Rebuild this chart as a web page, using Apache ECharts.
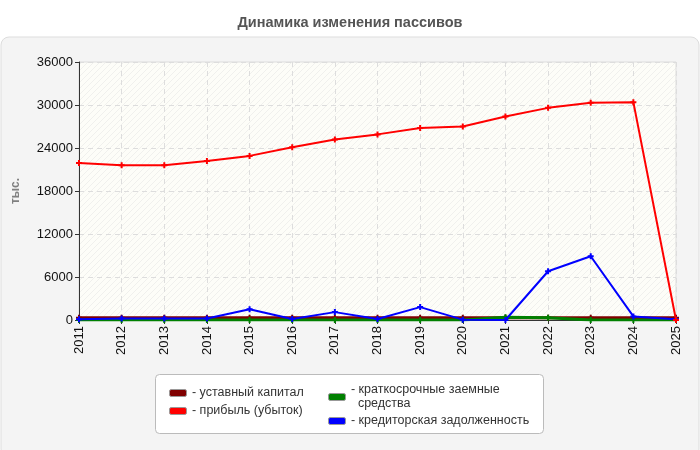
<!DOCTYPE html>
<html>
<head>
<meta charset="utf-8">
<script src="https://cdn.jsdelivr.net/npm/echarts@6/dist/echarts.min.js"></script>
<style>
    html, body { margin: 0; padding: 0; background: #fff; }
    #chart { width: 700px; height: 450px; }
</style>
</head>
<body>
<div id="chart"></div>
<script>
    var years = ['2011', '2012', '2013', '2014', '2015', '2016', '2017', '2018', '2019', '2020', '2021', '2022', '2023', '2024', '2025'];
    var capital = [300, 300, 300, 300, 300, 300, 300, 300, 300, 300, 300, 300, 300, 300, 300];
    var profit = [21900, 21600, 21600, 22200, 22900, 24100, 25200, 25900, 26800, 27000, 28400, 29600, 30300, 30400, 0];
    var loans = [0, 0, 0, 0, 0, 0, 0, 0, 0, 0, 400, 300, 0, 0, 0];
    var payables = [100, 200, 200, 200, 1500, 150, 1100, 150, 1800, 50, 0, 6800, 8900, 500, 100];
    var yTicks = [0, 6000, 12000, 18000, 24000, 30000, 36000];

    var font = 'Liberation Sans, Arial, sans-serif';

    // штриховка фона области графика
    var hatch = document.createElement('canvas');
    hatch.width = 6;
    hatch.height = 6;
    var hctx = hatch.getContext('2d');
    hctx.fillStyle = '#fdfdf8';
    hctx.fillRect(0, 0, 6, 6);
    hctx.strokeStyle = '#f0f0ed';
    hctx.lineWidth = 1;
    hctx.beginPath();
    hctx.moveTo(0, 6);
    hctx.lineTo(6, 0);
    hctx.stroke();

    var plus = 'path://M2,0H4V2H6V4H4V6H2V4H0V2H2Z';

    var chart = echarts.init(document.getElementById('chart'));

    function line(name, data, color, width, z) {
        return {
            name: name,
            type: 'line',
            data: data,
            z: z,
            symbol: plus,
            symbolSize: 6,
            showAllSymbol: true,
            lineStyle: { color: color, width: width },
            itemStyle: { color: color },
            emphasis: { disabled: true }
        };
    }

    var legendBase = {
        orient: 'vertical',
        itemWidth: 17,
        itemHeight: 7,
        icon: 'roundRect',
        itemGap: 3,
        selectedMode: false,
        textStyle: { fontSize: 12.5, color: '#333', fontFamily: font, lineHeight: 14, padding: [0, 0, 0, -3] },
        formatter: function (name) { return ' - ' + name; }
    };

    var option = {
        animation: false,
        backgroundColor: '#fff',
        title: {
            text: 'Динамика изменения пассивов',
            left: 'center',
            top: 10,
            textStyle: { fontSize: 14.5, fontWeight: 'bold', color: '#555', fontFamily: font }
        },
        graphic: [
            {
                type: 'rect', z: -10, silent: true,
                shape: { x: 1, y: 37, width: 698, height: 420, r: 8 },
                style: { fill: '#f4f4f4', stroke: '#dddddd', lineWidth: 1 }
            },
            {
                type: 'rect', z: -5, silent: true,
                shape: { x: 155.5, y: 374.5, width: 388, height: 59, r: 4 },
                style: { fill: '#ffffff', stroke: '#bbbbbb', lineWidth: 1 }
            }
        ],
        legend: [
            Object.assign({}, legendBase, {
                left: 164,
                top: 381,
                itemGap: 4,
                data: ['уставный капитал', 'прибыль (убыток)'].map(function (n) {
                    return { name: n, itemStyle: { borderColor: '#999', borderWidth: 1 } };
                })
            }),
            Object.assign({}, legendBase, {
                left: 323,
                top: 378,
                formatter: function (name) {
                    if (name === 'краткосрочные заемные средства') return ' - краткосрочные заемные\n   средства';
                    return ' - ' + name;
                },
                data: ['краткосрочные заемные средства', 'кредиторская задолженность'].map(function (n) {
                    return { name: n, itemStyle: { borderColor: '#999', borderWidth: 1 } };
                })
            })
        ],
        grid: {
            left: 79,
            right: 24,
            top: 62,
            bottom: 130,
            show: true,
            borderColor: '#dddddd',
            borderWidth: 1,
            backgroundColor: { image: hatch, repeat: 'repeat' }
        },
        xAxis: {
            type: 'category',
            data: years,
            boundaryGap: false,
            axisLine: { lineStyle: { color: '#333', width: 1 } },
            axisTick: { show: true, length: 4, lineStyle: { color: '#333' }, alignWithLabel: true },
            axisLabel: { rotate: 90, color: '#111', fontSize: 13, margin: 6, fontFamily: font },
            splitLine: { show: true, lineStyle: { color: '#dddddd', type: [5, 4] } }
        },
        yAxis: {
            type: 'value',
            min: yTicks[0],
            max: yTicks[yTicks.length - 1],
            interval: 6000,
            name: 'тыс.',
            nameLocation: 'middle',
            nameGap: 57,
            nameRotate: 90,
            nameTextStyle: { color: '#808080', fontWeight: 'bold', fontSize: 12, fontFamily: font },
            axisLine: { show: true, lineStyle: { color: '#333', width: 1 } },
            axisTick: { show: true, length: 4, lineStyle: { color: '#333' } },
            axisLabel: {
                color: '#111', fontSize: 13, margin: 6, fontFamily: font,
                formatter: function (v) { return String(v); }
            },
            splitLine: { show: true, lineStyle: { color: '#dddddd', type: [5, 4] } }
        },
        series: [
            line('уставный капитал', capital, '#800000', 3, 2),
            line('краткосрочные заемные средства', loans, '#008000', 3, 3),
            line('кредиторская задолженность', payables, '#0000ff', 2, 4),
            line('прибыль (убыток)', profit, '#ff0000', 2, 5)
        ]
    };

    chart.setOption(option);
</script>
</body>
</html>
